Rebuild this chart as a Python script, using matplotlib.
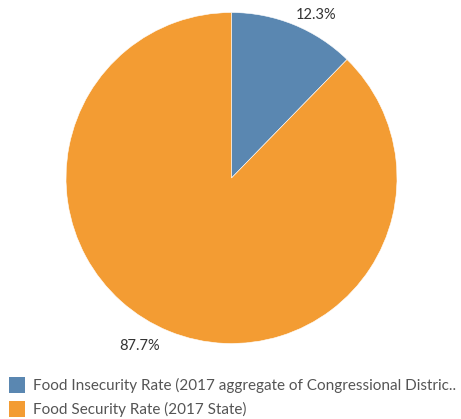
import matplotlib
matplotlib.use("Agg")
import matplotlib.pyplot as plt
from matplotlib.patches import Rectangle

plt.rcParams['font.family'] = ['Lato', 'DejaVu Sans']

# data
categories = ["Food Insecurity Rate (2017 aggregate of Congressional Distric..",
              "Food Security Rate (2017 State)"]
shares = [12.3, 87.7]
colors = ["#5a87b1", "#f39c33"]
label_pos = [(0.51, 0.985), (-0.553, -1.015)]  # text spots around the pie

fig = plt.figure(figsize=(4.61, 4.19), dpi=100)
ax = fig.add_axes([66 / 461, 75.5 / 419, 331 / 461, 331 / 419])
ax.pie(shares, colors=colors, startangle=90, counterclock=False, radius=1,
       wedgeprops=dict(edgecolor="white", linewidth=0.4))
ax.set_xlim(-1, 1)
ax.set_ylim(-1, 1)
ax.set_aspect("equal")
ax.axis("off")

for val, (x, y) in zip(shares, label_pos):
    ax.text(x, y, f"{val}%", ha="center", va="center", fontsize=10.5,
            color="#333333", clip_on=False)

# legend
for i, (name, c) in enumerate(zip(categories, colors)):
    y = 385 + i * 24
    fig.patches.append(Rectangle((9 / 461, (419 - y - 8) / 419), 16 / 461, 16 / 419,
                                 transform=fig.transFigure, facecolor=c,
                                 edgecolor="none"))
    fig.text(33 / 461, (419 - y) / 419, name, ha="left", va="center",
             fontsize=11, color="#555555")

fig.savefig("out.png", dpi=100)
